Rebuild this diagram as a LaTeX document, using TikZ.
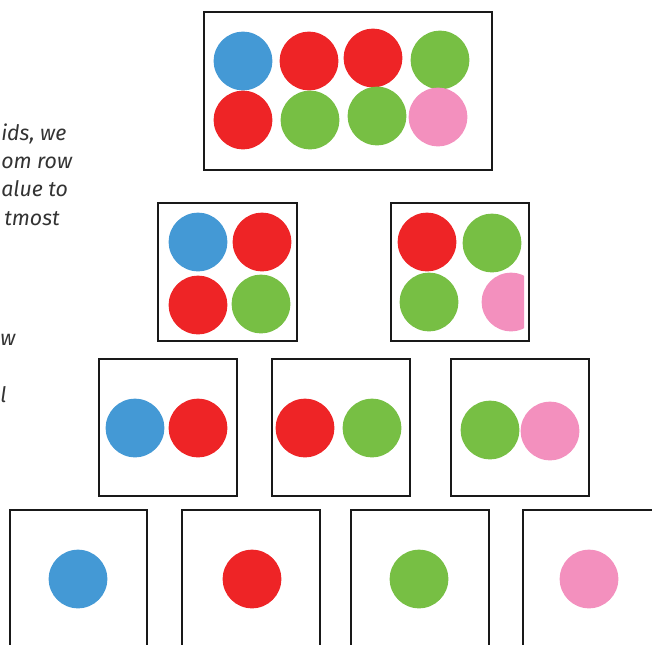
\documentclass[tikz,border=0pt]{standalone}
\usepackage{fontspec}
\setmainfont{Fira Sans}
\definecolor{cblue}{HTML}{4499D5}
\definecolor{cred}{HTML}{EE2426}
\definecolor{cgreen}{HTML}{77BF44}
\definecolor{cpink}{HTML}{F390BE}
\definecolor{ctext}{HTML}{333333}
\begin{document}
\begin{tikzpicture}[x=0.75pt,y=-0.75pt,
  box/.style={draw=black!90,line width=2pt},
  dot/.style={circle,inner sep=0pt,minimum size=44pt},
  frag/.style={anchor=base west,inner sep=0pt,text=ctext,font=\itshape\fontsize{16}{19}\selectfont}]
\useasboundingbox (0,0) rectangle (652,644);
\clip (0,0) rectangle (652,644);
% text fragments
\node[frag] (t1) at (1,140) {ids, we};
\node[frag] (t2) at (1,168) {om row};
\node[frag] (t3) at (1,196) {alue to};
\node[frag] (t4) at (4,225) {tmost};
\node[frag] (t5) at (0,345) {w};
\node[frag] (t6) at (0,402) {l};
% top
\draw[box] (204,12) rectangle (492,170);
\node[dot,fill=cblue] (a1) at (243,61) {};
\node[dot,fill=cred] (a2) at (309,61) {};
\node[dot,fill=cred] (a3) at (373,58) {};
\node[dot,fill=cgreen] (a4) at (440,60) {};
\node[dot,fill=cred] (a5) at (243,120) {};
\node[dot,fill=cgreen] (a6) at (310,120) {};
\node[dot,fill=cgreen] (a7) at (377,116) {};
\node[dot,fill=cpink] (a8) at (438,117) {};
% level 2
\draw[box] (158,203) rectangle (297,341);
\node[dot,fill=cblue] (b1) at (198,242) {};
\node[dot,fill=cred] (b2) at (262,242) {};
\node[dot,fill=cred] (b3) at (198,305) {};
\node[dot,fill=cgreen] (b4) at (261,304) {};
\begin{scope}
\clip (391,203) rectangle (524,341);
\node[dot,fill=cpink] (c4) at (511,302) {};
\end{scope}
\draw[box] (391,203) rectangle (529,341);
\node[dot,fill=cred] (c1) at (427,242) {};
\node[dot,fill=cgreen] (c2) at (492,243) {};
\node[dot,fill=cgreen] (c3) at (429,302) {};
% level 3
\draw[box] (99,359) rectangle (237,496);
\draw[box] (272,359) rectangle (410,496);
\draw[box] (451,359) rectangle (589,496);
\node[dot,fill=cblue] (d1) at (135,428) {};
\node[dot,fill=cred] (d2) at (198,428) {};
\node[dot,fill=cred] (e1) at (305,428) {};
\node[dot,fill=cgreen] (e2) at (372,428) {};
\node[dot,fill=cgreen] (f1) at (490,430) {};
\node[dot,fill=cpink] (f2) at (550,431) {};
% level 4
\draw[box] (10,510) rectangle (147,660);
\draw[box] (182,510) rectangle (320,660);
\draw[box] (351,510) rectangle (489,660);
\draw[box] (523,510) rectangle (660,660);
\node[dot,fill=cblue] (g1) at (78,579) {};
\node[dot,fill=cred] (g2) at (252,579) {};
\node[dot,fill=cgreen] (g3) at (419,579) {};
\node[dot,fill=cpink] (g4) at (589,579) {};
\end{tikzpicture}
\end{document}
